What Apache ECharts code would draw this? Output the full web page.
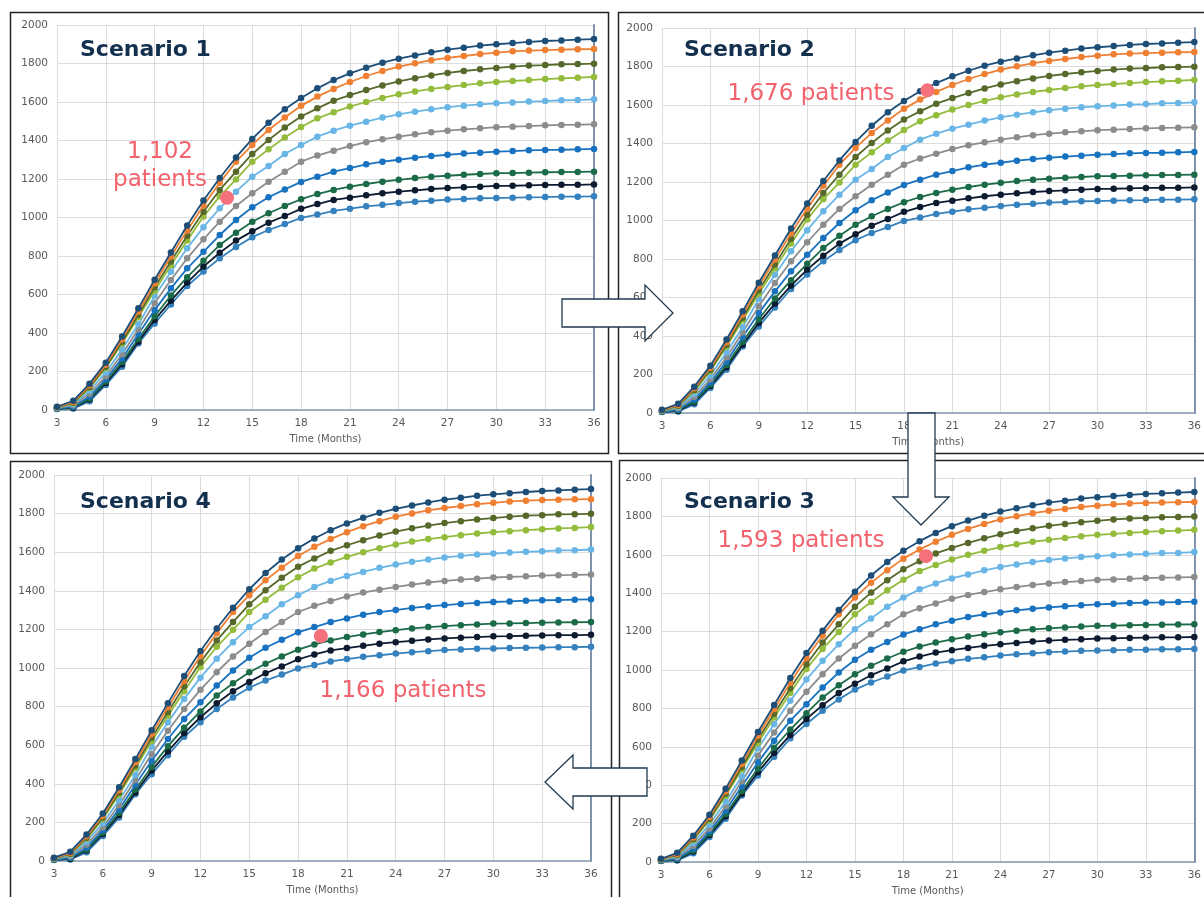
<!DOCTYPE html>
<html><head><meta charset="utf-8">
<script src="https://cdn.jsdelivr.net/npm/echarts@6/dist/echarts.min.js"></script>
<style>html,body{margin:0;padding:0;background:#fff;}#c{width:1204px;height:897px;}</style>
</head><body><div id="c"></div>
<script>
// ---------- DATA ----------
const months = [3,4,5,6,7,8,9,10,11,12,13,14,15,16,17,18,19,20,21,22,23,24,25,26,27,28,29,30,31,32,33,34,35,36];
const xTicks = [3,6,9,12,15,18,21,24,27,30,33,36];
const yTicks = [0,200,400,600,800,1000,1200,1400,1600,1800,2000];

const sNavy   = [17,48,137,246,382,528,677,818,958,1088,1205,1312,1408,1492,1562,1621,1671,1714,1749,1778,1804,1825,1842,1858,1872,1882,1893,1900,1906,1912,1917,1920,1924,1927];
const sOrange = [15,42,128,235,368,512,658,797,933,1062,1180,1290,1377,1455,1520,1580,1628,1668,1704,1735,1761,1784,1801,1817,1829,1839,1849,1856,1863,1867,1870,1872,1874,1875];
const sOlive  = [14,38,120,225,355,495,638,772,905,1030,1143,1238,1330,1403,1468,1525,1567,1607,1636,1662,1686,1707,1724,1738,1751,1761,1770,1777,1784,1789,1792,1796,1797,1799];
const sLime   = [13,35,115,218,345,482,620,752,880,1005,1110,1198,1290,1354,1416,1470,1515,1547,1576,1600,1621,1640,1655,1668,1678,1688,1697,1704,1709,1714,1719,1723,1726,1730];
const sSky    = [12,30,100,195,315,445,592,718,840,950,1048,1134,1212,1268,1330,1377,1420,1451,1477,1498,1519,1536,1550,1562,1573,1581,1588,1593,1598,1602,1605,1609,1610,1614];
const sGray   = [10,25,85,175,290,420,554,675,788,887,978,1060,1126,1186,1238,1290,1322,1347,1371,1391,1406,1420,1432,1443,1451,1458,1463,1469,1472,1475,1479,1481,1482,1484];
const sBlue   = [8,18,70,160,268,395,519,632,736,822,909,987,1053,1105,1146,1185,1212,1238,1257,1276,1290,1300,1311,1319,1326,1332,1337,1342,1345,1349,1351,1352,1354,1356];
const sGreen  = [7,14,60,148,250,370,487,595,690,775,857,921,978,1022,1060,1095,1122,1143,1160,1174,1186,1196,1205,1212,1217,1222,1226,1230,1231,1233,1235,1236,1237,1238];
const sBlack  = [6,11,55,140,238,355,468,568,662,745,817,880,928,973,1008,1045,1070,1091,1103,1115,1126,1134,1141,1148,1153,1157,1160,1164,1165,1167,1169,1170,1170,1172];
const sSteel  = [5,8,45,130,225,346,450,548,644,719,788,847,898,935,966,998,1015,1034,1046,1058,1066,1075,1082,1087,1093,1096,1100,1101,1103,1105,1106,1108,1108,1110];

const scenarioTitles  = ['Scenario 1','Scenario 2','Scenario 3','Scenario 4'];
const highlightMonths = [13.45, 19.45, 19.4, 19.4];
const highlightValues = [1102, 1676, 1593, 1166];
const highlightLabels = [['1,102','patients'], ['1,676 patients'], ['1,593 patients'], ['1,166 patients']];
const xAxisTitle = 'Time (Months)';

// ---------- STYLE / LAYOUT ----------
const allSeries = [sNavy,sOrange,sOlive,sLime,sSky,sGray,sBlue,sGreen,sBlack,sSteel];
const colors = ['#1d4e78','#ef7f32','#56692a','#93bb3c','#69b6e6','#8c8c8c','#1872bf','#1b6b48','#0d1b30','#3481bd'];

const panels = [
  {grid:{left:57, top:25, width:537, height:385}, box:[10.5,12.5,598,441], title:[80,50],  label:[160,152]},
  {grid:{left:662,top:28, width:540, height:385}, box:[618.5,12.5,620,441], title:[684,50], label:[811,94]},
  {grid:{left:661,top:478,width:539, height:386}, box:[619.5,460.5,620,470], title:[684,502],label:[801,541]},
  {grid:{left:54, top:475,width:537, height:386}, box:[10.5,461.5,601,470], title:[80,502], label:[403,691]}
];

const FONT = 'DejaVu Sans';
const plain = v => String(v);
const grids = [], xAxes = [], yAxes = [], series = [], graphics = [];

panels.forEach((p, pi) => {
  grids.push(Object.assign({containLabel:false}, p.grid));
  xAxes.push({
    type:'value', gridIndex:pi, min:3, max:36, interval:3, position:'bottom',
    name: xAxisTitle, nameLocation:'middle', nameGap:24,
    nameTextStyle:{fontFamily:FONT, fontSize:10, color:'#595959'},
    axisLine:{show:false}, axisTick:{show:false},
    axisLabel:{fontFamily:FONT, fontSize:10.5, color:'#595959', margin:8, formatter:plain},
    splitLine:{show:true, lineStyle:{color:'#dcdcdc', width:1}}
  });
  xAxes.push({
    type:'value', gridIndex:pi, min:3, max:36, interval:3, position:'top',
    axisLine:{show:true, lineStyle:{color:'#8699b1', width:1.5}},
    axisTick:{show:false}, axisLabel:{show:false}, splitLine:{show:false}
  });
  yAxes.push({
    type:'value', gridIndex:pi, min:0, max:2000, interval:200, position:'left',
    axisLine:{show:false}, axisTick:{show:false},
    axisLabel:{fontFamily:FONT, fontSize:10.5, color:'#595959', margin:9, formatter:plain},
    splitLine:{show:true, lineStyle:{color:'#dcdcdc', width:1}}
  });
  yAxes.push({
    type:'value', gridIndex:pi, min:0, max:2000, interval:200, position:'right',
    axisLine:{show:true, lineStyle:{color:'#7f93ad', width:2}},
    axisTick:{show:false}, axisLabel:{show:false}, splitLine:{show:false}
  });
  allSeries.forEach((vals, si) => {
    series.push({
      type:'line', xAxisIndex:pi*2, yAxisIndex:pi*2,
      data: months.map((m,k)=>[m, vals[k]]),
      symbol:'circle', symbolSize:6.5, showAllSymbol:true,
      lineStyle:{width:1.8, color:colors[si]},
      itemStyle:{color:colors[si]},
      z: 3 + (allSeries.length - si) * 0.01,
      silent:true
    });
  });
  series.push({
    type:'scatter', xAxisIndex:pi*2, yAxisIndex:pi*2,
    data:[[highlightMonths[pi], highlightValues[pi]]],
    symbol:'circle', symbolSize:14, itemStyle:{color:'#f4707a', opacity:1}, z:10, silent:true
  });

  graphics.push({type:'rect', shape:{x:p.box[0], y:p.box[1], width:p.box[2], height:p.box[3]},
    style:{fill:null, stroke:'#222', lineWidth:1.5}, z:50, silent:true});
  graphics.push({type:'text', x:p.title[0], y:p.title[1],
    style:{text:scenarioTitles[pi], fontFamily:FONT, fontWeight:'bold', fontSize:22,
      fill:'#14304f', align:'left', verticalAlign:'middle'}, z:60});
  const lines = highlightLabels[pi];
  lines.forEach((t, li) => {
    graphics.push({type:'text', x:p.label[0], y:p.label[1] + li*28,
      style:{text:t, fontFamily:FONT, fontSize:23, fill:'#f2616c', align:'center', verticalAlign:'middle'}, z:60});
  });
});

const arrowStyle = {fill:'#fff', stroke:'#20394f', lineWidth:1.3};
graphics.push({type:'polygon', z:100, shape:{points:[[562,299],[645,299],[645,285],[673,313],[645,341],[645,327],[562,327]]}, style:arrowStyle});
graphics.push({type:'polygon', z:100, shape:{points:[[908,413],[935,413],[935,497],[949,497],[921,525],[893,497],[908,497]]}, style:arrowStyle});
graphics.push({type:'polygon', z:100, shape:{points:[[647,768],[573,768],[573,755],[545,782],[573,809],[573,796],[647,796]]}, style:arrowStyle});

const chart = echarts.init(document.getElementById('c'));
chart.setOption({
  animation:false,
  backgroundColor:'#fff',
  grid:grids, xAxis:xAxes, yAxis:yAxes, series:series,
  graphic:{elements:graphics}
});
</script>
</body></html>
